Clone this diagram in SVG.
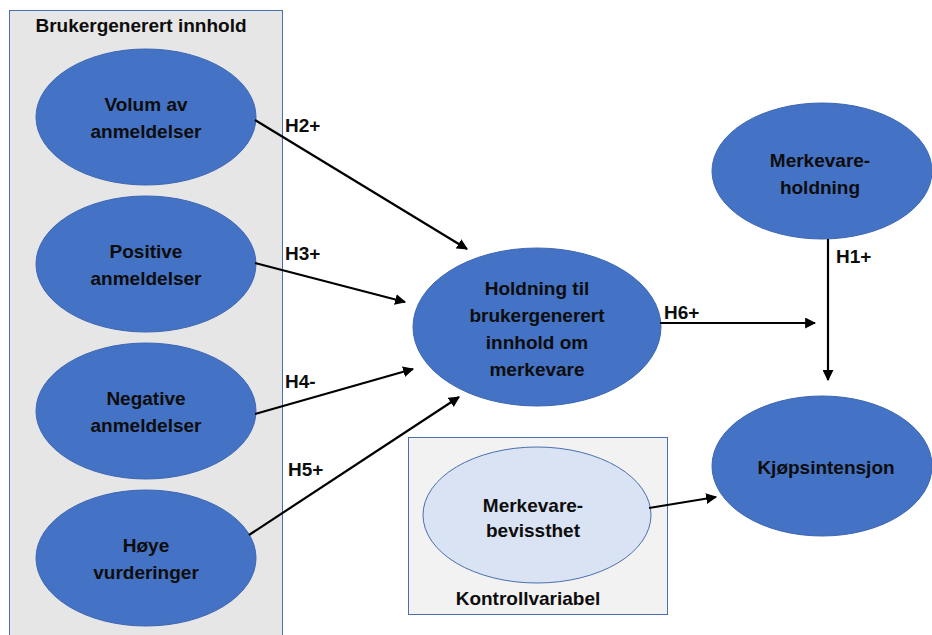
<svg xmlns="http://www.w3.org/2000/svg" width="932" height="635" viewBox="0 0 932 635">
<style>
text{font-family:"Liberation Sans",Arial,sans-serif;font-weight:bold;font-size:19px;fill:#0d0d0d;text-anchor:middle}
.lbl{text-anchor:start}
.node{fill:#4472c4;stroke:#3d67b3;stroke-width:1}
.ctrl{fill:#dae3f3;stroke:#4a6fae;stroke-width:1}
.conn line{stroke:#000;stroke-width:2.2;marker-end:url(#ah)}
</style>
<defs>
<marker id="ah" viewBox="0 0 10 10" refX="9" refY="5" markerWidth="5" markerHeight="5" orient="auto" markerUnits="strokeWidth">
<path d="M0,0 L10,5 L0,10 Z" fill="#000"/>
</marker>
</defs>
<rect x="0" y="0" width="932" height="635" fill="#fff"/>
<g id="group-brukergenerert">
<rect x="9.5" y="10.5" width="273" height="630" fill="#e7e6e6" stroke="#4a6fae" stroke-width="1"/>
<text x="141" y="32">Brukergenerert innhold</text>
</g>
<g id="group-kontroll">
<rect x="408.5" y="437.5" width="259" height="177" fill="#f2f2f2" stroke="#4a6fae" stroke-width="1"/>
<text x="528" y="605">Kontrollvariabel</text>
</g>
<g id="volum">
<ellipse class="node" cx="146" cy="117" rx="110" ry="68"/>
<text x="146" y="111">Volum av</text>
<text x="146" y="138">anmeldelser</text>
</g>
<g id="positive">
<ellipse class="node" cx="146" cy="264" rx="110" ry="68"/>
<text x="146" y="258">Positive</text>
<text x="146" y="285">anmeldelser</text>
</g>
<g id="negative">
<ellipse class="node" cx="146" cy="411" rx="110" ry="68"/>
<text x="146" y="405">Negative</text>
<text x="146" y="432">anmeldelser</text>
</g>
<g id="hoye">
<ellipse class="node" cx="146" cy="558" rx="110" ry="68"/>
<text x="146" y="552">Høye</text>
<text x="146" y="579">vurderinger</text>
</g>
<g id="holdning">
<ellipse class="node" cx="537" cy="327" rx="124" ry="79"/>
<text x="537" y="295">Holdning til</text>
<text x="537" y="322">brukergenerert</text>
<text x="537" y="349">innhold om</text>
<text x="537" y="376">merkevare</text>
</g>
<g id="merkevareholdning">
<ellipse class="node" cx="822" cy="171" rx="110" ry="68"/>
<text x="820" y="167">Merkevare-</text>
<text x="820" y="194">holdning</text>
</g>
<g id="kjopsintensjon">
<ellipse class="node" cx="822" cy="466" rx="110" ry="70"/>
<text x="826" y="474">Kjøpsintensjon</text>
</g>
<g id="merkevarebevissthet">
<ellipse class="ctrl" cx="537" cy="515" rx="114" ry="68"/>
<text x="533" y="512">Merkevare-</text>
<text x="533" y="537">bevissthet</text>
</g>
<g id="connectors" class="conn">
<line x1="255" y1="120" x2="467" y2="249"/>
<line x1="255" y1="263" x2="405" y2="302"/>
<line x1="255" y1="414" x2="413" y2="369"/>
<line x1="249" y1="535" x2="459" y2="397"/>
<line x1="660" y1="323" x2="815" y2="323"/>
<line x1="828" y1="239" x2="828" y2="380"/>
<line x1="649" y1="508" x2="716" y2="497"/>
</g>
<g id="labels">
<text class="lbl" x="285" y="132">H2+</text>
<text class="lbl" x="285" y="260">H3+</text>
<text class="lbl" x="285" y="388">H4-</text>
<text class="lbl" x="288" y="476">H5+</text>
<text class="lbl" x="664" y="319">H6+</text>
<text class="lbl" x="836" y="263">H1+</text>
</g>
</svg>
